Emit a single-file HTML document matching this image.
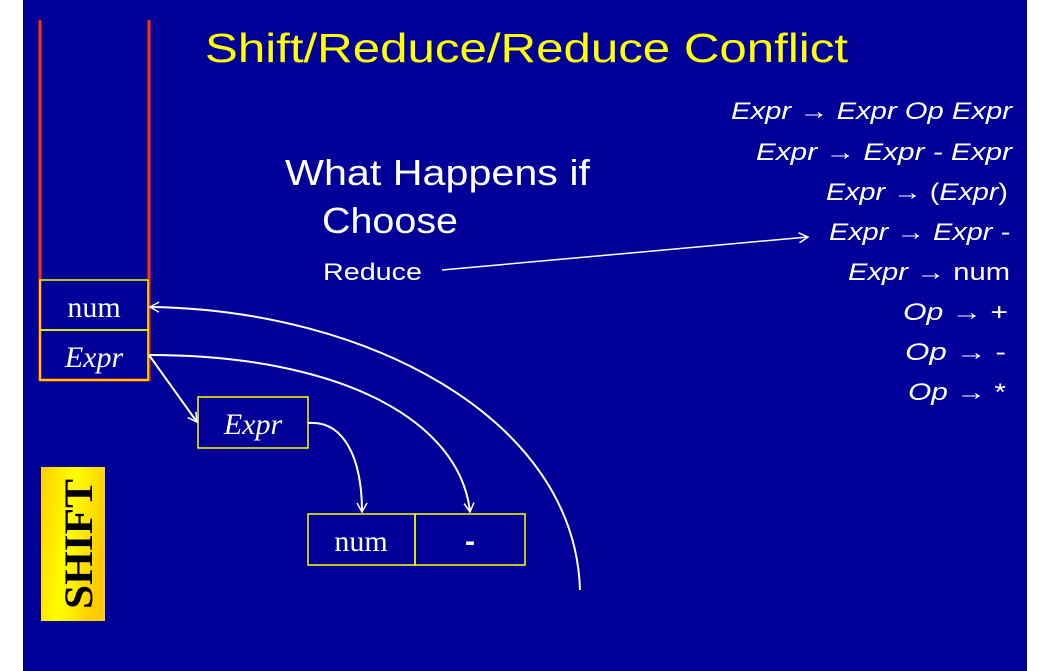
<!DOCTYPE html>
<html><head><style>
body{margin:0;background:#fff;}
svg{display:block}
</style></head><body>
<svg width="1052" height="671" xmlns="http://www.w3.org/2000/svg">
<defs>
<linearGradient id="g" x1="0" y1="0" x2="1" y2="0.3">
<stop offset="0" stop-color="#ffcc00"/><stop offset="0.5" stop-color="#ffff00"/><stop offset="1" stop-color="#ffcc00"/>
</linearGradient>
<marker id="a" markerWidth="12" markerHeight="12" refX="10" refY="6" orient="auto" markerUnits="userSpaceOnUse">
<path d="M1,1 L10,6 L1,11" fill="none" stroke="#fff" stroke-width="1.5"/>
</marker>
</defs>
<rect x="23" y="0" width="1004" height="671" fill="#000099"/>
<g font-family="Liberation Sans, sans-serif">
<text x="205" y="62" font-size="41" fill="#ffff00" textLength="643" lengthAdjust="spacingAndGlyphs">Shift/Reduce/Reduce Conflict</text>
<text x="285" y="185" font-size="36" fill="#fff" textLength="305" lengthAdjust="spacingAndGlyphs">What Happens if</text>
<text x="322" y="233" font-size="36" fill="#fff" textLength="136" lengthAdjust="spacingAndGlyphs">Choose</text>
<text x="323" y="280" font-size="24" fill="#fff" textLength="99" lengthAdjust="spacingAndGlyphs">Reduce</text>
<g font-size="24" fill="#fff">
<text x="731" y="119" textLength="281" lengthAdjust="spacingAndGlyphs"><tspan font-style="italic">Expr</tspan> → <tspan font-style="italic">Expr Op  Expr</tspan></text>
<text x="756" y="160" textLength="256" lengthAdjust="spacingAndGlyphs"><tspan font-style="italic">Expr</tspan> → <tspan font-style="italic">Expr -  Expr</tspan></text>
<text x="826" y="200" textLength="182" lengthAdjust="spacingAndGlyphs"><tspan font-style="italic">Expr</tspan> →  (<tspan font-style="italic">Expr</tspan>)</text>
<text x="829" y="240" textLength="181" lengthAdjust="spacingAndGlyphs"><tspan font-style="italic">Expr</tspan> →  <tspan font-style="italic">Expr -</tspan></text>
<text x="848" y="280" textLength="162" lengthAdjust="spacingAndGlyphs"><tspan font-style="italic">Expr</tspan> →  num</text>
<text x="903" y="320" textLength="105" lengthAdjust="spacingAndGlyphs"><tspan font-style="italic">Op</tspan> →  +</text>
<text x="905" y="360" textLength="101" lengthAdjust="spacingAndGlyphs"><tspan font-style="italic">Op</tspan> →   -</text>
<text x="908" y="400" textLength="98" lengthAdjust="spacingAndGlyphs"><tspan font-style="italic">Op</tspan> →  *</text>
</g>
</g>
<line x1="40" y1="20" x2="40" y2="381" stroke="#ff3300" stroke-width="3"/>
<line x1="149" y1="20" x2="149" y2="381" stroke="#ff3300" stroke-width="3"/>
<line x1="40" y1="380" x2="149" y2="380" stroke="#ff3300" stroke-width="3"/>
<rect x="40" y="280" width="108" height="50" fill="none" stroke="#ffff00" stroke-width="1.5"/>
<rect x="40" y="330" width="108" height="50" fill="none" stroke="#ffff00" stroke-width="1.5"/>
<rect x="198" y="397" width="110" height="51" fill="none" stroke="#ffff00" stroke-width="1.5"/>
<rect x="308" y="514" width="107" height="51" fill="none" stroke="#ffff00" stroke-width="1.5"/>
<rect x="415" y="514" width="110" height="51" fill="none" stroke="#ffff00" stroke-width="1.5"/>
<g font-family="Liberation Serif, serif" font-size="30" fill="#fff" text-anchor="middle">
<text x="94" y="317">num</text>
<text x="94" y="367" font-style="italic">Expr</text>
<text x="253" y="434" font-style="italic">Expr</text>
<text x="361" y="551">num</text>
<text x="470" y="551" font-family="Liberation Sans, sans-serif" font-weight="bold">-</text>
</g>
<line x1="442" y1="270" x2="808" y2="237" stroke="#fff" stroke-width="1.5" marker-end="url(#a)"/>
<line x1="149" y1="355" x2="197" y2="422" stroke="#fff" stroke-width="2" marker-end="url(#a)"/>
<path d="M308,423 C345,420 362,460 362,512" fill="none" stroke="#fff" stroke-width="2" marker-end="url(#a)"/>
<path d="M149,355 C340,355 460,420 470,512" fill="none" stroke="#fff" stroke-width="2" marker-end="url(#a)"/>
<path d="M580,590 C575,420 370,310 150,307" fill="none" stroke="#fff" stroke-width="2" marker-end="url(#a)"/>
<rect x="41" y="467" width="64" height="154" fill="url(#g)"/>
<text transform="translate(92,544) rotate(-90)" text-anchor="middle" font-family="Liberation Serif, serif" font-weight="bold" font-size="40" fill="#000" textLength="130" lengthAdjust="spacingAndGlyphs">SHIFT</text>
</svg>
</body></html>
